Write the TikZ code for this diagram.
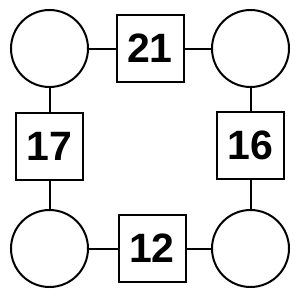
\documentclass[tikz,border=0pt]{standalone}
\usepackage{fontspec}
\setmainfont{Liberation Sans}
\begin{document}
\begin{tikzpicture}[x=1pt,y=-1pt,line width=2pt]
  \tikzset{every node/.style={draw,inner sep=0pt},
    ring/.style={circle,minimum size=77pt},
    tile/.style={minimum size=67pt,font=\fontsize{41}{41}\selectfont\bfseries}}
  \useasboundingbox (0,0) rectangle (300,300);

  \node[ring] (tl) at ( 49.5, 48.5) {};
  \node[ring] (tr) at (250.5, 48.5) {};
  \node[ring] (bl) at ( 49.5,248.5) {};
  \node[ring] (br) at (250.5,248.5) {};
  \node[tile] (top)    at (150,  48.5) {21};
  \node[tile] (left)   at ( 49.5,146)  {17};
  \node[tile] (right)  at (250.5,145)  {16};
  \node[tile] (bottom) at (152, 248.5) {12};

  \path[-]
    (tl) edge (top)
    (top) edge (tr)
    (tl) edge (left)
    (left) edge (bl)
    (tr) edge (right)
    (right) edge (br)
    (bl) edge (bottom)
    (bottom) edge (br);
\end{tikzpicture}
\end{document}
